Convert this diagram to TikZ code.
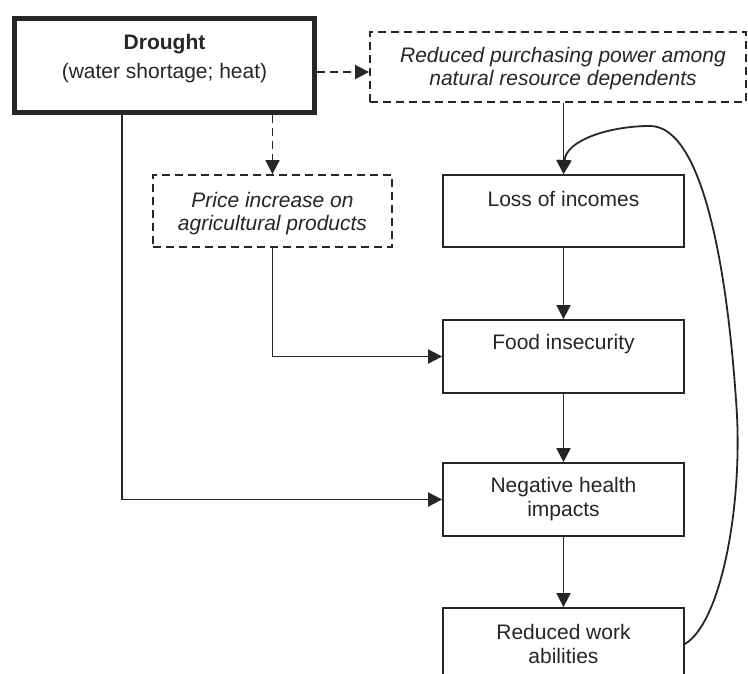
\documentclass[tikz,border=0pt]{standalone}
\usepackage{fontspec}
\setmainfont{Liberation Sans}
\usetikzlibrary{arrows.meta,calc}
\begin{document}
\begin{tikzpicture}[x=1pt,y=-1pt,
  txt/.style={font=\fontsize{21}{24}\selectfont, text=black!85, align=center, inner sep=0pt},
  box/.style={draw=black!85, line width=1.8pt, minimum width=241pt, minimum height=72pt, inner sep=0pt},
  dbox/.style={box, dash pattern=on 8pt off 5pt},
  arr/.style={draw=black!85, line width=1.8pt, -{Triangle[length=14pt,width=14pt]}},
  darr/.style={arr, dash pattern=on 8pt off 5pt},
]
\useasboundingbox (0,0) rectangle (748,673);
\fill[white] (0,0) rectangle (748,673);

% boxes
\node[box, line width=5pt, minimum width=300pt, minimum height=94pt] (drought) at (164.5,65.5) {};
\node[dbox, minimum width=376pt, minimum height=70pt] (purch) at (558,67) {};
\node[dbox, minimum width=239pt] (price) at (272.5,211) {};
\node[box] (loss) at (563.5,211) {};
\node[box, minimum height=73pt] (food) at (563.5,356.5) {};
\node[box, minimum height=73pt] (health) at (563.5,499.5) {};
\node[box] (work) at (563.5,644) {};

% labels
\node[txt] (droughtT) at ($(drought.north)+(0,43)$) {\textbf{Drought}\\[5pt](water shortage; heat)};
\node[txt, font=\fontsize{21}{23}\selectfont\itshape] (purchT) at (563,68.5) {Reduced purchasing power among\\natural resource dependents};
\node[txt, font=\fontsize{21}{23}\selectfont\itshape] (priceT) at (272.5,213.5) {Price increase on\\agricultural products};
\node[txt] (lossT) at ($(loss.north)+(0,25)$) {Loss of incomes};
\node[txt] (foodT) at ($(food.north)+(0,25)$) {Food insecurity};
\node[txt] (healthT) at (health.center) {Negative health\\impacts};
\node[txt] (workT) at (work.center) {Reduced work\\abilities};

% connectors
\draw[darr] (drought.east |- 0,72) -- (purch.west |- 0,72);
\draw[darr] (drought.south -| price.north) -- (price.north);
\draw[arr] (purch.south -| loss.north) -- (loss.north);
\draw[arr] (loss) -- (food);
\draw[arr] (food) -- (health);
\draw[arr] (health) -- (work);
\draw[arr] (price.south) |- (food.west);
\draw[arr] ([xshift=-42.5pt]drought.south) |- (health.west);
\draw[arr] (work.east) .. controls (722,622) and (744,500) .. (736,400)
  .. controls (726,255) and (700,126) .. (650,126)
  .. controls (610,126) and (566,140) .. (loss.north);
\end{tikzpicture}
\end{document}
